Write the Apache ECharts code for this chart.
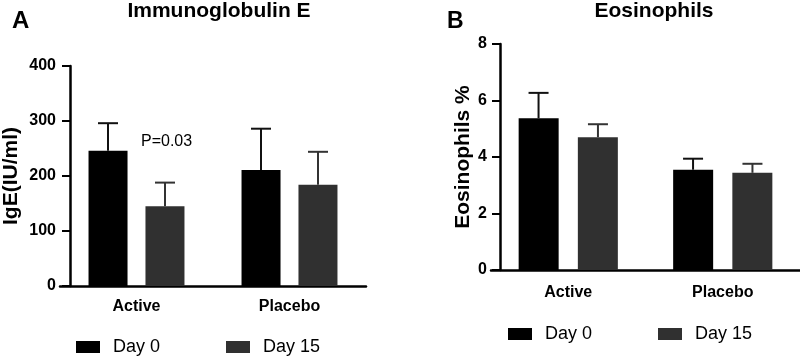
<!DOCTYPE html>
<html>
<head>
<meta charset="utf-8">
<script src="https://cdn.jsdelivr.net/npm/echarts@6/dist/echarts.min.js"></script>
<style>
html,body{margin:0;padding:0;background:#fff;}
#container{width:800px;height:358px;}
</style>
</head>
<body>
<div id="container"></div>
<script>
// data
var groups = ['Active', 'Placebo'];
var seriesNames = ['Day 0', 'Day 15'];

// IgE (IU/ml): mean and top of error bar
var igeDay0 = [246, 211];
var igeDay0Err = [296, 286];
var igeDay15 = [145, 184];
var igeDay15Err = [188, 244];

// Eosinophils %
var eosDay0 = [5.37, 3.55];
var eosDay0Err = [6.27, 3.94];
var eosDay15 = [4.70, 3.44];
var eosDay15Err = [5.16, 3.76];

var pText = 'P=0.03';

var FONT = 'Liberation Sans, Arial, sans-serif';
var colDay0 = '#000000';
var colDay15 = '#303030';

var dom = document.getElementById('container');
var myChart = echarts.init(dom);

function errData(vals, errs) {
    var res = [];
    for (var i = 0; i < vals.length; i++) {
        res.push([i, vals[i], errs[i]]);
    }
    return res;
}

// error bar drawn above bar, shifted to the bar's slot
function errorRender(offset, capW, color) {
    return function (params, api) {
        var base = api.coord([api.value(0), api.value(1)]);
        var top = api.coord([api.value(0), api.value(2)]);
        var cx = base[0] + offset;
        var st = { stroke: color, lineWidth: 2 };
        return {
            type: 'group',
            children: [
                { type: 'line', shape: { x1: cx, y1: base[1], x2: cx, y2: top[1] }, style: st },
                { type: 'line', shape: { x1: cx - capW / 2, y1: top[1], x2: cx + capW / 2, y2: top[1] }, style: st }
            ]
        };
    };
}

function xAxisOf(gridIndex, margin) {
    return {
        type: 'category',
        gridIndex: gridIndex,
        data: groups,
        axisLine: { lineStyle: { color: '#000', width: 2.5 } },
        axisTick: { alignWithLabel: true, length: 8, lineStyle: { color: '#000', width: 2 } },
        axisLabel: { color: '#000', fontWeight: 'bold', fontSize: 16, fontFamily: FONT, margin: margin }
    };
}

// offset < 0 pulls the y axis line inside the grid, like the prism layout
function yAxisOf(gridIndex, max, interval, name, nameGap, margin, offset) {
    return {
        type: 'value',
        gridIndex: gridIndex,
        offset: offset,
        min: 0,
        max: max,
        interval: interval,
        name: name,
        nameLocation: 'middle',
        nameGap: nameGap,
        nameTextStyle: { color: '#000', fontWeight: 'bold', fontSize: 21, fontFamily: FONT },
        splitLine: { show: false },
        axisLine: { show: true, lineStyle: { color: '#000', width: 2.5 } },
        axisTick: { show: true, length: 8, lineStyle: { color: '#000', width: 2 } },
        axisLabel: { color: '#000', fontWeight: 'bold', fontSize: 16, fontFamily: FONT, margin: margin }
    };
}

function legendOf(left, top) {
    return {
        left: left,
        top: top,
        padding: 0,
        icon: 'rect',
        itemWidth: 24,
        itemHeight: 12,
        itemGap: 66,
        data: seriesNames,
        textStyle: { color: '#000', fontSize: 18, fontFamily: FONT, padding: [0, 0, 0, 8] }
    };
}

var option = {
    animation: false,
    backgroundColor: '#fff',
    title: [
        { text: 'A', left: 7, top: 4, textStyle: { fontSize: 24, fontWeight: 'bold', color: '#000', fontFamily: FONT } },
        { text: 'Immunoglobulin E', left: 214, top: -4, textAlign: 'center', textStyle: { fontSize: 21, fontWeight: 'bold', color: '#000', fontFamily: FONT } },
        { text: 'B', left: 442, top: 5, textStyle: { fontSize: 23, fontWeight: 'bold', color: '#000', fontFamily: FONT } },
        { text: 'Eosinophils', left: 649, top: -4, textAlign: 'center', textStyle: { fontSize: 21, fontWeight: 'bold', color: '#000', fontFamily: FONT } }
    ],
    legend: [legendOf(76, 338), legendOf(508, 325)],
    grid: [
        { left: 58, top: 66, width: 308, height: 220 },
        { left: 491, top: 44, width: 318, height: 226 }
    ],
    xAxis: [xAxisOf(0, 13), xAxisOf(1, 15)],
    yAxis: [
        yAxisOf(0, 400, 100, 'IgE(IU/ml)', 48, 14, -10),
        yAxisOf(1, 8, 2, 'Eosinophils %', 26, 13, -9)
    ],
    graphic: [
        { type: 'text', left: 141, top: 134, style: { text: pText, fontSize: 16, fill: '#000', fontFamily: FONT } }
    ],
    series: [
        { name: 'Day 0', type: 'bar', xAxisIndex: 0, yAxisIndex: 0, data: igeDay0, barWidth: 39, barGap: '46%', itemStyle: { color: colDay0 } },
        { name: 'Day 15', type: 'bar', xAxisIndex: 0, yAxisIndex: 0, data: igeDay15, barWidth: 39, barGap: '46%', itemStyle: { color: colDay15 } },
        { name: 'Day 0', type: 'bar', xAxisIndex: 1, yAxisIndex: 1, data: eosDay0, barWidth: 40, barGap: '48%', itemStyle: { color: colDay0 } },
        { name: 'Day 15', type: 'bar', xAxisIndex: 1, yAxisIndex: 1, data: eosDay15, barWidth: 40, barGap: '48%', itemStyle: { color: colDay15 } },
        { type: 'custom', xAxisIndex: 0, yAxisIndex: 0, z: 5, data: errData(igeDay0, igeDay0Err), renderItem: errorRender(-28.5, 20, '#111') },
        { type: 'custom', xAxisIndex: 0, yAxisIndex: 0, z: 5, data: errData(igeDay15, igeDay15Err), renderItem: errorRender(28.5, 20, '#333') },
        { type: 'custom', xAxisIndex: 1, yAxisIndex: 1, z: 5, data: errData(eosDay0, eosDay0Err), renderItem: errorRender(-29.7, 20, '#111') },
        { type: 'custom', xAxisIndex: 1, yAxisIndex: 1, z: 5, data: errData(eosDay15, eosDay15Err), renderItem: errorRender(29.7, 20, '#333') }
    ]
};

myChart.setOption(option);
</script>
</body>
</html>
